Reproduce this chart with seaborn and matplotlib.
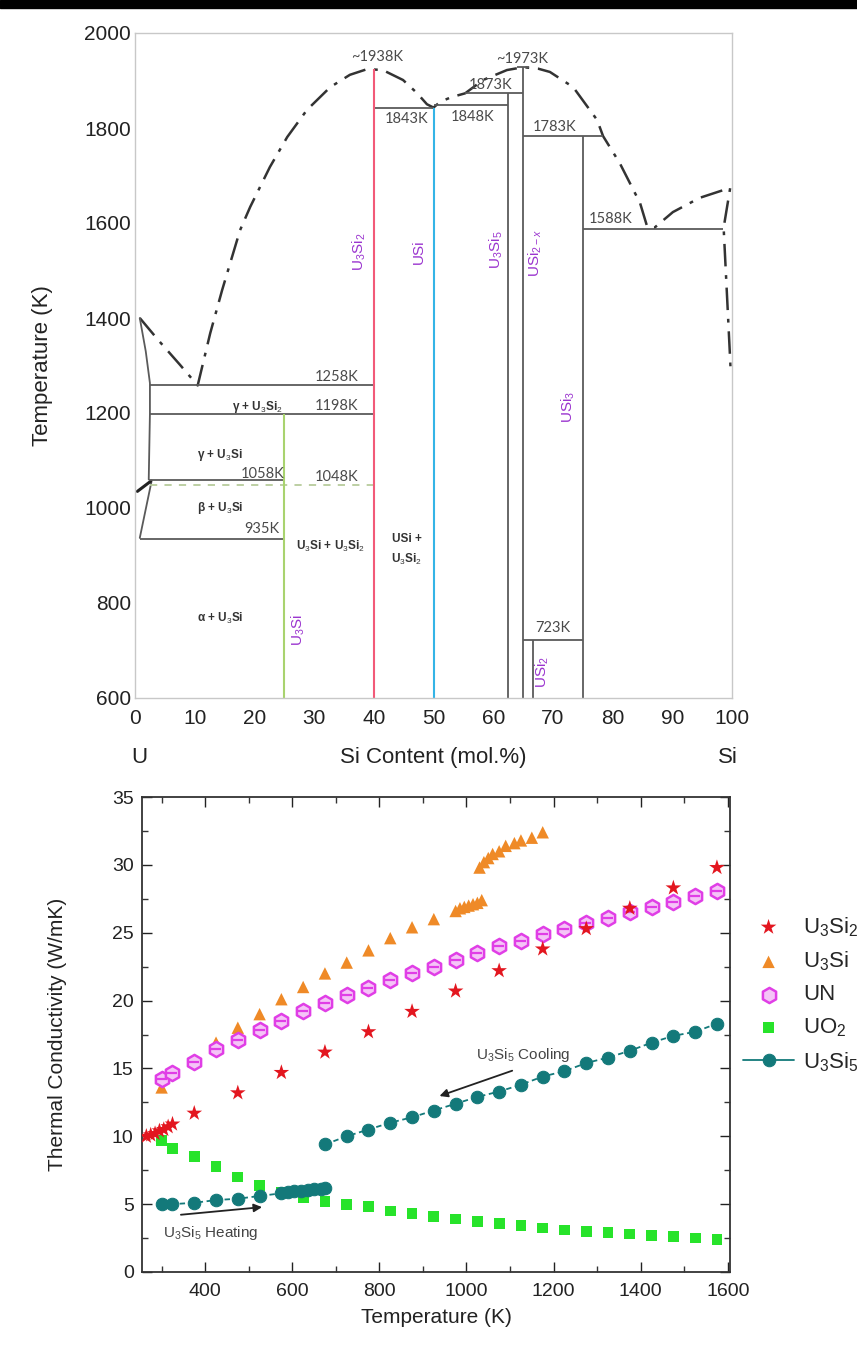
import matplotlib
matplotlib.use("Agg")
import matplotlib.pyplot as plt
from matplotlib.patches import Rectangle
from matplotlib.ticker import MultipleLocator
import pandas as pd
import seaborn as sns

# ---------------- U-Si phase diagram (top) ----------------
# dash-dot liquidus, mol.% Si vs K
liq_x = [0.8, 4.0, 7.5, 10.5, 12.6, 14.6, 17.6, 19.3, 22.6, 25.5, 28.8, 32.7, 36.0,
         38.9, 41.5, 44.9, 47.2, 48.9, 50.0, 51.1, 53.0, 55.3, 58.3, 62.3, 65.0,
         67.5, 69.5, 73.4, 77.4, 78.4, 81.2, 84.6, 85.8, 87.0, 90.1, 94.6, 99.7,
         98.6, 99.2, 99.8]
liq_t = [1400, 1352, 1302, 1258, 1368, 1459, 1585, 1634, 1718, 1781, 1838, 1886, 1912,
         1924, 1922, 1901, 1874, 1850, 1843, 1855, 1865, 1873, 1901, 1922, 1928,
         1925, 1918, 1886, 1817, 1783, 1726, 1642, 1592, 1590, 1623, 1653, 1674,
         1590, 1438, 1285]

# solid boundaries on the U-rich side
left_x = [0.8, 1.8, 2.5, 2.5, 2.3]
left_t = [1400, 1330, 1263, 1198, 1060]
beta_x = [2.8, 0.8]
beta_t = [1058, 937]

# isotherms
iso_t = [1258, 1198, 1058, 935, 1843, 1848, 1873, 1783, 1588, 723]
iso_x0 = [2.5, 2.5, 2.3, 0.8, 40, 50, 55.3, 65, 75, 65]
iso_x1 = [40, 40, 25, 25, 50, 62.5, 65, 78.4, 98.5, 75]

# compound lines
comp_x = [62.5, 65.0, 66.7, 75.0]
comp_top = [1873, 1928, 723, 1783]
col_x = [25, 40, 50]
col_top = [1198, 1925, 1843]
col_c = ["#a9d36f", "#f25a78", "#34b4e6"]

temp_labels = ["~1938K", "1843K", "1848K", "1873K", "~1973K", "1783K", "1588K",
               "1258K", "1198K", "1058K", "1048K", "935K", "723K"]
temp_lab_x = [40.5, 45.5, 56.6, 59.5, 64.8, 70.3, 79.6, 33.8, 33.8, 21.3, 33.8, 21.3, 70.0]
temp_lab_t = [1950, 1819, 1823, 1890, 1945, 1803, 1608, 1276, 1215, 1071, 1066, 955, 747]

region_labels = ["γ + U$_3$Si$_2$", "γ + U$_3$Si", "β + U$_3$Si", "α + U$_3$Si",
                 "U$_3$Si + U$_3$Si$_2$", "USi +\nU$_3$Si$_2$"]
region_x = [20.5, 14.2, 14.2, 14.2, 32.7, 45.5]
region_t = [1213, 1112, 1000, 768, 918, 912]

phase_labels = ["U$_3$Si", "U$_3$Si$_2$", "USi", "U$_3$Si$_5$", "USi$_{2-x}$",
                "USi$_3$", "USi$_2$"]
phase_x = [27.3, 37.6, 47.6, 60.6, 67.0, 72.5, 68.3]
phase_t = [743, 1540, 1540, 1543, 1537, 1213, 655]

# ---------------- thermal conductivity (bottom) ----------------
u3si2_t = [265, 275, 285, 295, 305, 315, 325, 375, 475, 575, 675, 775, 875, 975,
           1075, 1175, 1275, 1375, 1475, 1575]
u3si2_k = [10.0, 10.1, 10.2, 10.4, 10.5, 10.7, 10.9, 11.7, 13.2, 14.7, 16.2, 17.7,
           19.2, 20.7, 22.2, 23.8, 25.3, 26.8, 28.3, 29.8]

u3si_t = [300, 375, 425, 475, 525, 575, 625, 675, 725, 775, 825, 875, 925, 975, 985,
          995, 1005, 1015, 1025, 1035, 1030, 1040, 1050, 1060, 1075, 1090, 1110,
          1125, 1150, 1175]
u3si_k = [13.6, 15.6, 16.9, 18.0, 19.0, 20.1, 21.0, 22.0, 22.8, 23.7, 24.6, 25.4,
          26.0, 26.6, 26.8, 26.9, 27.0, 27.1, 27.2, 27.4, 29.8, 30.2, 30.5, 30.8,
          31.0, 31.4, 31.6, 31.8, 32.0, 32.4]

un_t = [300, 325, 375, 425, 475, 525, 575, 625, 675, 725, 775, 825, 875, 925, 975,
        1025, 1075, 1125, 1175, 1225, 1275, 1325, 1375, 1425, 1475, 1525, 1575]
un_k = [14.2, 14.7, 15.5, 16.4, 17.1, 17.8, 18.5, 19.2, 19.8, 20.4, 20.9, 21.5, 22.0,
        22.5, 23.0, 23.5, 24.0, 24.4, 24.9, 25.3, 25.7, 26.1, 26.5, 26.9, 27.3, 27.7, 28.1]

uo2_t = [300, 325, 375, 425, 475, 525, 575, 625, 675, 725, 775, 825, 875, 925, 975,
         1025, 1075, 1125, 1175, 1225, 1275, 1325, 1375, 1425, 1475, 1525, 1575]
uo2_k = [9.7, 9.1, 8.5, 7.8, 7.0, 6.4, 5.9, 5.5, 5.2, 5.0, 4.8, 4.5, 4.3, 4.1, 3.9,
         3.7, 3.55, 3.4, 3.25, 3.1, 3.0, 2.9, 2.8, 2.7, 2.6, 2.5, 2.4]

heat_t = [300, 325, 375, 425, 475, 525, 575, 590, 605, 620, 635, 650, 665, 675]
heat_k = [5.0, 5.0, 5.1, 5.3, 5.4, 5.6, 5.8, 5.9, 5.95, 6.0, 6.05, 6.1, 6.15, 6.2]

cool_t = [675, 725, 775, 825, 875, 925, 975, 1025, 1075, 1125, 1175, 1225, 1275,
          1325, 1375, 1425, 1475, 1525, 1575]
cool_k = [9.4, 10.0, 10.5, 11.0, 11.4, 11.9, 12.4, 12.9, 13.3, 13.8, 14.4, 14.8,
          15.4, 15.8, 16.3, 16.9, 17.4, 17.7, 18.3]

sns.set_theme(style="white")
plt.rcParams['font.family'] = ['Liberation Sans', 'DejaVu Sans']
plt.rcParams['mathtext.fontset'] = 'custom'
plt.rcParams['mathtext.rm'] = 'Liberation Sans'
plt.rcParams['mathtext.it'] = 'Liberation Sans:italic'
plt.rcParams['mathtext.bf'] = 'Liberation Sans:bold'

W, H = 857, 1348
fig = plt.figure(figsize=(W / 100, H / 100), dpi=100)
fig.patch.set_facecolor("white")
fig.add_artist(Rectangle((0, 1 - 8 / H), 1, 8 / H, transform=fig.transFigure,
                         color="black", zorder=10))

# ---- top plot ----
ax1 = fig.add_axes([135 / W, 1 - 698 / H, 597 / W, 665 / H])
line_c = "#5a5a5a"

liq = pd.DataFrame({"x": liq_x, "t": liq_t})
sns.lineplot(data=liq, x="x", y="t", sort=False, estimator=None, ax=ax1,
             color="#333333", lw=1.8)
ax1.lines[-1].set_dashes([9, 3.5, 1.5, 3.5])

ax1.plot(left_x, left_t, color=line_c, lw=1.3)
ax1.plot(beta_x, beta_t, color=line_c, lw=1.3)
ax1.plot([0.4, 2.6], [1035, 1056], color="#222222", lw=2.2)
ax1.hlines(iso_t, iso_x0, iso_x1, color=line_c, lw=1.3)
ax1.hlines(1048, 2.5, 40, color="#b8cc9c", lw=1.3, linestyles=(0, (4, 4)))
ax1.vlines(comp_x, 600, comp_top, color=line_c, lw=1.3)
ax1.hlines(1928, 64.0, 66.0, color=line_c, lw=1.3)
ax1.vlines(col_x, 600, col_top, colors=col_c, lw=1.5)

for s, x, t in zip(temp_labels, temp_lab_x, temp_lab_t):
    ax1.text(x, t, s, ha="center", va="center", fontsize=10.5, color="#4a4a4a",
             family=["Lato", "DejaVu Sans"])
for s, x, t in zip(region_labels, region_x, region_t):
    ax1.text(x, t, s, ha="center", va="center", fontsize=8.5, color="#333333",
             fontweight="bold", linespacing=1.6)
for s, x, t in zip(phase_labels, phase_x, phase_t):
    ax1.text(x, t, s, ha="center", va="center", fontsize=11, color="#9b35cf",
             rotation=90)

ax1.set_xlim(0, 100)
ax1.set_ylim(600, 2000)
ax1.xaxis.set_major_locator(MultipleLocator(10))
ax1.yaxis.set_major_locator(MultipleLocator(200))
ax1.tick_params(length=0, labelsize=15, colors="#222222")
ax1.tick_params(axis="x", pad=8)
ax1.tick_params(axis="y", pad=3)
for sp in ax1.spines.values():
    sp.set_color("#c8c8c8")
    sp.set_linewidth(1.0)
ax1.set_xlabel("Si Content (mol.%)", fontsize=16, color="#222222")
ax1.xaxis.set_label_coords(0.5, -0.089)
ax1.xaxis.label.set_va("center")
ax1.set_ylabel("Temperature (K)", fontsize=16, color="#222222", va="center")
ax1.yaxis.set_label_coords(-0.155, 0.5)
ax1.text(0.8, -0.089, "U", transform=ax1.get_xaxis_transform(), ha="center",
         va="center", fontsize=16, color="#222222")
ax1.text(99.3, -0.089, "Si", transform=ax1.get_xaxis_transform(), ha="center",
         va="center", fontsize=16, color="#222222")

# ---- bottom plot ----
ax2 = fig.add_axes([142 / W, 1 - 1272 / H, 588 / W, 475 / H])
teal = "#13797a"
pink = "#e03ee6"

sns.scatterplot(x=u3si2_t, y=u3si2_k, marker="*", s=140, color="#e3161f",
                edgecolor="none", label="U$_3$Si$_2$", ax=ax2, zorder=4)
sns.scatterplot(x=u3si_t, y=u3si_k, marker="^", s=80, color="#ef8a27",
                edgecolor="none", label="U$_3$Si", ax=ax2, zorder=2)
sns.scatterplot(x=un_t, y=un_k, marker="h", s=120, color="#f5c4f7",
                edgecolor=pink, linewidth=1.8, label="UN", ax=ax2, zorder=3)
sns.scatterplot(x=un_t, y=un_k, marker="_", s=45, color=pink, linewidth=1.6,
                label="_nolegend_", ax=ax2, zorder=3)
sns.scatterplot(x=uo2_t, y=uo2_k, marker="s", s=60, color="#27e32a",
                edgecolor="none", label="UO$_2$", ax=ax2, zorder=2)
sns.lineplot(x=heat_t, y=heat_k, sort=False, estimator=None, color=teal, lw=1.3,
             linestyle=(0, (3, 2)), marker="o", markersize=9, markeredgecolor=teal,
             label="_nolegend_", ax=ax2, zorder=5)
sns.lineplot(x=cool_t, y=cool_k, sort=False, estimator=None, color=teal, lw=1.3,
             linestyle=(0, (3, 2)), marker="o", markersize=9, markeredgecolor=teal,
             label="U$_3$Si$_5$", ax=ax2, zorder=5)

ax2.annotate("", xy=(932, 12.9), xytext=(1111, 14.9),
             arrowprops=dict(arrowstyle="-|>", color="#222222", lw=1.3,
                             mutation_scale=12))
ax2.annotate("", xy=(537, 4.8), xytext=(338, 4.2),
             arrowprops=dict(arrowstyle="-|>", color="#222222", lw=1.3,
                             mutation_scale=12))
ax2.text(1130, 16.0, "U$_3$Si$_5$ Cooling", ha="center", va="center",
         fontsize=11, color="#444444")
ax2.text(413, 2.9, "U$_3$Si$_5$ Heating", ha="center", va="center",
         fontsize=11, color="#444444")

ax2.set_xlim(255, 1605)
ax2.set_ylim(0, 35)
ax2.xaxis.set_major_locator(MultipleLocator(200))
ax2.xaxis.set_minor_locator(MultipleLocator(100))
ax2.yaxis.set_major_locator(MultipleLocator(5))
ax2.yaxis.set_minor_locator(MultipleLocator(2.5))
ax2.tick_params(which="both", direction="in", top=True, right=True,
                bottom=True, left=True, color="#333333", width=1.0)
ax2.tick_params(which="major", length=7, labelsize=14, colors="#222222")
ax2.tick_params(which="minor", length=4)
ax2.tick_params(axis="x", which="major", pad=8)
ax2.tick_params(axis="y", which="major", pad=6)
for sp in ax2.spines.values():
    sp.set_color("#333333")
    sp.set_linewidth(1.3)
ax2.set_xlabel("Temperature (K)", fontsize=15, color="#222222", labelpad=6)
ax2.set_ylabel("Thermal Conductivity (W/mK)", fontsize=15, color="#222222",
               va="center")
ax2.yaxis.set_label_coords(-0.143, 0.5)

handles, labels = ax2.get_legend_handles_labels()
leg = ax2.legend(handles, labels, loc="upper left",
                 bbox_to_anchor=(743 / W, 1 - 915 / H),
                 bbox_transform=fig.transFigure, frameon=False, fontsize=16,
                 handlelength=2.3, handletextpad=0.4, labelspacing=0.5,
                 borderpad=0, borderaxespad=0)
for ln in leg.get_lines():
    ln.set_linestyle("-")

fig.savefig("out.png", dpi=100, facecolor="white")
